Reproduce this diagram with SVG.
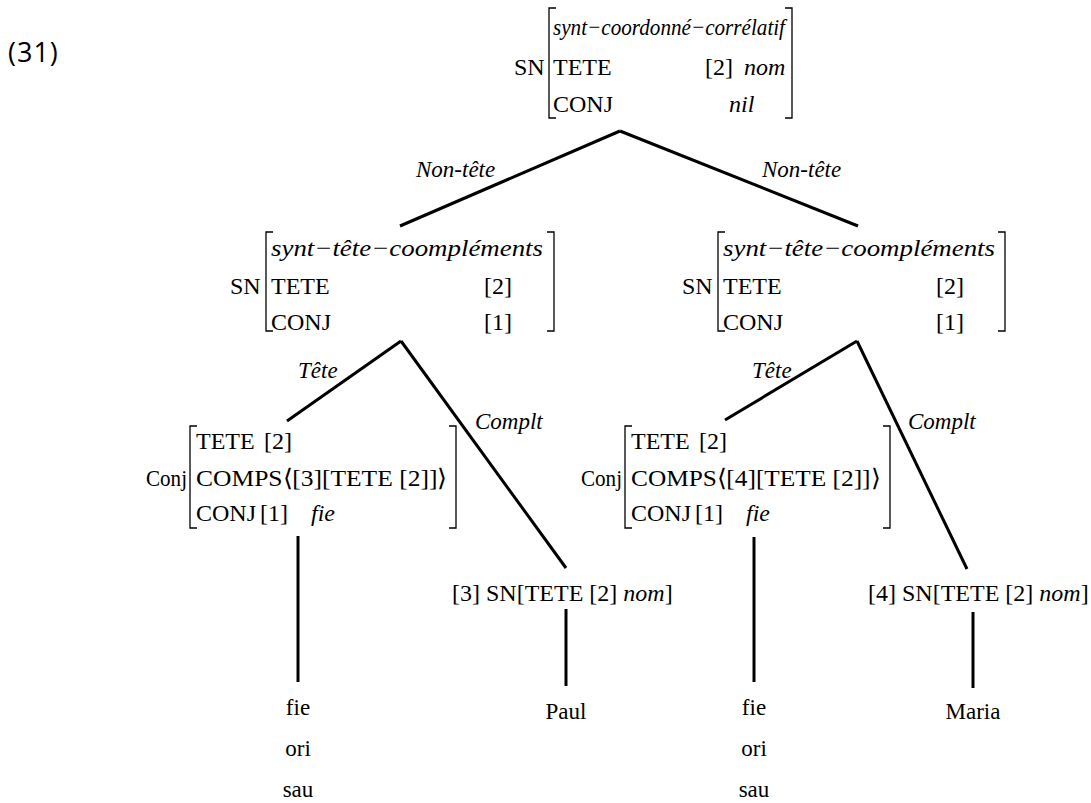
<svg xmlns="http://www.w3.org/2000/svg" width="1091" height="803" viewBox="0 0 1091 803">
<defs>
<style>
.t{font-family:"Liberation Serif","Times New Roman",serif;font-size:24px;fill:#000}
.l{font-size:23px}
.i{font-style:italic}
.br{fill:none;stroke:#000;stroke-width:1.3}
.e{stroke:#000;stroke-width:3;fill:none}
.num{font-family:"Open Sans","Noto Sans",sans-serif;font-size:27px;font-weight:500;fill:#000}
</style>
</defs>
<rect width="1091" height="803" fill="#fff"/>
<text class="num" x="8" y="62" letter-spacing="1">(31)</text>

<g id="connectors">
<line class="e" x1="620" y1="131" x2="400" y2="226"/>
<line class="e" x1="620" y1="131" x2="858" y2="226"/>
<line class="e" x1="401" y1="341" x2="287" y2="421"/>
<line class="e" x1="401" y1="341" x2="566" y2="568"/>
<line class="e" x1="857" y1="341" x2="725" y2="420"/>
<line class="e" x1="857" y1="341" x2="967" y2="569"/>
<line class="e" x1="298" y1="536" x2="298" y2="682"/>
<line class="e" x1="754" y1="537" x2="754" y2="682"/>
<line class="e" x1="566" y1="609" x2="566" y2="686"/>
<line class="e" x1="973" y1="612" x2="973" y2="688"/>
<text class="t l i" x="416" y="177">Non-tête</text>
<text class="t l i" x="762" y="177">Non-tête</text>
<text class="t l i" x="298" y="378">Tête</text>
<text class="t l i" x="752" y="378">Tête</text>
<text class="t l i" x="475" y="429">Complt</text>
<text class="t l i" x="908" y="429">Complt</text>
</g>

<g id="root">
<text class="t" x="514" y="75">SN</text>
<path class="br" d="M556 8H549V118H556"/>
<path class="br" d="M785 8H792V118H785"/>
<text class="t i" x="553" y="35" textLength="232" lengthAdjust="spacingAndGlyphs">synt−coordonné−corrélatif</text>
<text class="t" x="553" y="75">TETE</text>
<text class="t" x="705" y="75">[2]</text>
<text class="t i" x="744" y="75">nom</text>
<text class="t" x="553" y="112">CONJ</text>
<text class="t i" x="729" y="112">nil</text>
</g>

<g id="sn-left">
<text class="t" x="230" y="294">SN</text>
<path class="br" d="M273 232H266V331H273"/>
<path class="br" d="M547 232H554V331H547"/>
<text class="t i" x="271" y="256" textLength="272" lengthAdjust="spacingAndGlyphs">synt−tête−coompléments</text>
<text class="t" x="271" y="294">TETE</text>
<text class="t" x="484" y="294">[2]</text>
<text class="t" x="271" y="330">CONJ</text>
<text class="t" x="484" y="330">[1]</text>
</g>

<g id="sn-right">
<text class="t" x="682" y="294">SN</text>
<path class="br" d="M725 232H718V331H725"/>
<path class="br" d="M998 232H1005V331H998"/>
<text class="t i" x="723" y="256" textLength="272" lengthAdjust="spacingAndGlyphs">synt−tête−coompléments</text>
<text class="t" x="723" y="294">TETE</text>
<text class="t" x="936" y="294">[2]</text>
<text class="t" x="723" y="330">CONJ</text>
<text class="t" x="936" y="330">[1]</text>
</g>

<g id="conj-left">
<text class="t" x="146" y="486" textLength="41" lengthAdjust="spacingAndGlyphs">Conj</text>
<path class="br" d="M197 426H190V528H197"/>
<path class="br" d="M449 426H456V528H449"/>
<text class="t" x="196" y="449">TETE</text>
<text class="t" x="264" y="449">[2]</text>
<text class="t" x="196" y="486" textLength="251" lengthAdjust="spacingAndGlyphs">COMPS⟨[3][TETE [2]]⟩</text>
<text class="t" x="196" y="521">CONJ</text>
<text class="t" x="260" y="521">[1]</text>
<text class="t i" x="311" y="521">fie</text>
</g>

<g id="conj-right">
<text class="t" x="581" y="486" textLength="41" lengthAdjust="spacingAndGlyphs">Conj</text>
<path class="br" d="M632 426H625V528H632"/>
<path class="br" d="M883 426H890V528H883"/>
<text class="t" x="631" y="449">TETE</text>
<text class="t" x="699" y="449">[2]</text>
<text class="t" x="631" y="486" textLength="249" lengthAdjust="spacingAndGlyphs">COMPS⟨[4][TETE [2]]⟩</text>
<text class="t" x="631" y="521">CONJ</text>
<text class="t" x="695" y="521">[1]</text>
<text class="t i" x="746" y="521">fie</text>
</g>

<g id="sn-paul">
<text class="t" x="452" y="601">[3] SN[TETE [2] <tspan class="i">nom</tspan>]</text>
</g>
<g id="sn-maria">
<text class="t" x="868" y="601">[4] SN[TETE [2] <tspan class="i">nom</tspan>]</text>
</g>

<g id="words-left">
<text class="t l" x="298" y="715" text-anchor="middle">fie</text>
<text class="t l" x="298" y="756" text-anchor="middle">ori</text>
<text class="t l" x="298" y="797" text-anchor="middle">sau</text>
</g>
<g id="words-right">
<text class="t l" x="754" y="715" text-anchor="middle">fie</text>
<text class="t l" x="754" y="756" text-anchor="middle">ori</text>
<text class="t l" x="754" y="797" text-anchor="middle">sau</text>
</g>
<g id="paul"><text class="t l" x="566" y="719" text-anchor="middle">Paul</text></g>
<g id="maria"><text class="t l" x="973" y="719" text-anchor="middle">Maria</text></g>
</svg>
